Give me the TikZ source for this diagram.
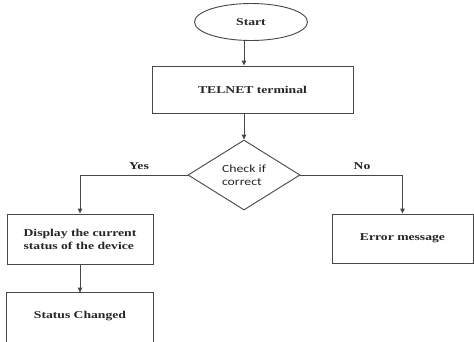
\documentclass[tikz,border=0pt]{standalone}
\usepackage{fontspec}
\setmainfont{Liberation Serif}[FakeStretch=1.3]
\newfontfamily\calfont{Carlito}[FakeStretch=1.25]
\usetikzlibrary{shapes.geometric,arrows.meta}
\begin{document}
\begin{tikzpicture}[x=1pt,y=-1pt,
  line width=0.9pt,
  ln/.style={draw=black!72},
  txt/.style={font=\bfseries\fontsize{10.5}{13}\selectfont, text=black!85},
  box/.style={ln, rectangle, inner sep=0pt, txt, align=left},
  flow/.style={ln, -{Triangle[length=5pt,width=4.5pt]}},
  lbl/.style={txt}]
\fill[white] (0,0) rectangle (474,341);
\useasboundingbox (0,0) rectangle (474,341);

% terminals and process boxes
\node[ln, ellipse, minimum width=113pt, minimum height=37pt, inner sep=0pt, txt] (start) at (251,22) {Start};
\node[box, minimum width=201pt, minimum height=47pt] (telnet) at (252.5,89.5) {TELNET terminal};
\node[ln, diamond, minimum width=112pt, minimum height=70pt, inner sep=0pt,
      font=\calfont\fontsize{11}{13}\selectfont, text=black!85, align=left] (check) at (244,175) {Check if\\correct};
\node[box, minimum width=146pt, minimum height=50pt] (disp) at (80,239) {Display the current\\status of the device};
\node[box, minimum width=141pt, minimum height=49pt] (err) at (402.5,238.5) {Error message};

% last box runs off the lower edge
\node[txt, minimum width=146pt, minimum height=47pt, inner sep=0pt] (status) at (80,316.5) {Status Changed};
\draw[ln] ([yshift=-12pt]status.south west) -- (status.north west) -- (status.north east) -- ([yshift=-12pt]status.south east);

% connectors
\draw[flow] (start.south -| check.north) -- (telnet.north -| check.north);
\draw[flow] (telnet.south -| check.north) -- (check.north);
\draw[flow] (check.west) -| (disp.north);
\draw[flow] (check.east) -| (err.north);
\draw[flow] (disp.south) -- (status.north);

% branch labels
\node[lbl] (yes) at (139,166) {Yes};
\node[lbl] (no) at (362,166) {No};
\end{tikzpicture}
\end{document}
